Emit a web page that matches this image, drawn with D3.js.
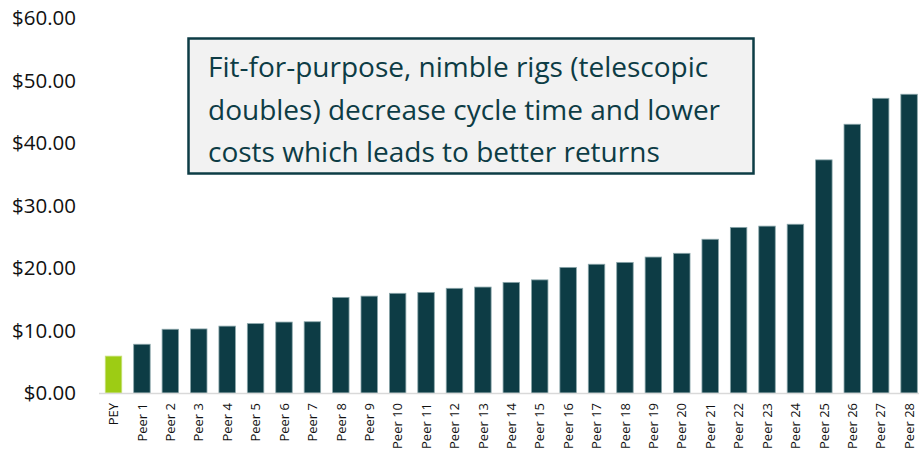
<html>
<head>
<script src="https://cdn.jsdelivr.net/npm/d3@7"></script>
<style>
  body { margin: 0; background: #fff; }
  svg text { font-family: "Open Sans", "Noto Sans", sans-serif; }
</style>
</head>
<body>
<div id="chart"></div>
<script>
// categories and values
var names = ["PEY", "Peer 1", "Peer 2", "Peer 3", "Peer 4", "Peer 5", "Peer 6", "Peer 7",
  "Peer 8", "Peer 9", "Peer 10", "Peer 11", "Peer 12", "Peer 13", "Peer 14", "Peer 15",
  "Peer 16", "Peer 17", "Peer 18", "Peer 19", "Peer 20", "Peer 21", "Peer 22", "Peer 23",
  "Peer 24", "Peer 25", "Peer 26", "Peer 27", "Peer 28"];
var costs = [5.9, 7.8, 10.2, 10.25, 10.7, 11.1, 11.35, 11.4,
  15.3, 15.5, 15.95, 16.1, 16.75, 16.95, 17.7, 18.1,
  20.1, 20.6, 20.9, 21.75, 22.35, 24.6, 26.5, 26.7,
  27.0, 37.3, 43.0, 47.15, 47.8];
var yTicks = [0, 10, 20, 30, 40, 50, 60];
var note = ["Fit-for-purpose, nimble rigs (telescopic",
  "doubles) decrease cycle time and lower",
  "costs which leads to better returns"];

var W = 919, H = 457;
var svg = d3.select("#chart").append("svg")
  .attr("width", W).attr("height", H);

var x = d3.scaleBand().domain(names)
  .range([99.3, 923.3]).paddingInner(0.42).paddingOuter(0.21);
var y = d3.scaleLinear().domain([0, 60]).range([393, 18]);

// y labels
svg.append("g").selectAll("text")
  .data(yTicks).enter().append("text")
  .attr("x", 76).attr("y", function(d) { return y(d); })
  .attr("dy", "0.36em")
  .attr("text-anchor", "end")
  .attr("font-size", 20.5)
  .attr("fill", "#111")
  .text(function(d) { return "$" + d.toFixed(2); });

// bars
svg.append("g").selectAll("rect")
  .data(names).enter().append("rect")
  .attr("x", function(d) { return x(d); })
  .attr("y", function(d, i) { return y(costs[i]); })
  .attr("width", x.bandwidth())
  .attr("height", function(d, i) { return y(0) - y(costs[i]); })
  .attr("fill", function(d) { return d == "PEY" ? "#9dcc14" : "#0d3c45"; })
  .attr("stroke", function(d) { return d == "PEY" ? "#c8e07a" : "#8aa6aa"; })
  .attr("stroke-width", 0.8);

// baseline
svg.append("line")
  .attr("x1", 99).attr("x2", W)
  .attr("y1", y(0) + 0.5).attr("y2", y(0) + 0.5)
  .attr("stroke", "#d9d9d9").attr("stroke-width", 1.5);

// x labels, rotated
svg.append("g").selectAll("text")
  .data(names).enter().append("text")
  .attr("transform", function(d) {
    return "translate(" + (x(d) + x.bandwidth() / 2) + ",403) rotate(-90)";
  })
  .attr("dy", "0.36em")
  .attr("text-anchor", "end")
  .attr("font-size", 13)
  .attr("fill", "#111")
  .text(function(d) { return d; });

// note box
var box = svg.append("g");
box.append("rect")
  .attr("x", 188.5).attr("y", 38.5)
  .attr("width", 565).attr("height", 135)
  .attr("fill", "#f2f2f2")
  .attr("stroke", "#0d3c45").attr("stroke-width", 2.5);
box.selectAll("text")
  .data(note).enter().append("text")
  .attr("x", 208)
  .attr("y", function(d, i) { return 77 + i * 42.5; })
  .attr("font-size", 28)
  .attr("fill", "#0d3c45")
  .text(function(d) { return d; });
</script>
</body>
</html>
